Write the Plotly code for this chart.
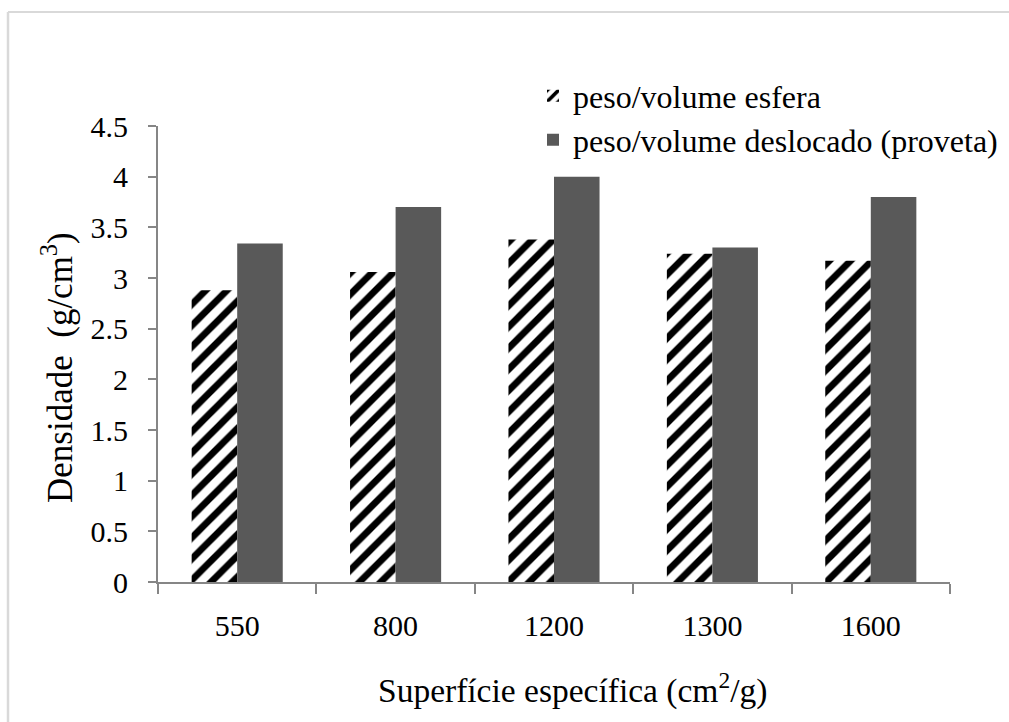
import plotly.graph_objects as go

# Specific surface categories (cm2/g)
categories = ["550", "800", "1200", "1300", "1600"]
# Density measured from sphere weight/volume
esfera = [2.88, 3.06, 3.38, 3.24, 3.17]
# Density from displaced volume in graduated cylinder
proveta = [3.34, 3.70, 4.00, 3.30, 3.80]
y_ticks = [0, 0.5, 1, 1.5, 2, 2.5, 3, 3.5, 4, 4.5]

FONT = "Liberation Serif"
AXIS = "#868686"

W, H = 1009, 722
ML, MR, MT, MB = 158, 59, 126, 140
PW, PH = W - ML - MR, H - MT - MB


def px_x(px):
    return (px - ML) / PW


def px_y(py):
    return (H - MB - py) / PH


fig = go.Figure()
fig.add_trace(go.Bar(
    x=categories, y=esfera, name="peso/volume esfera",
    marker=dict(color="white", line=dict(width=0),
                pattern=dict(shape="/", fgcolor="black", bgcolor="white",
                             fgopacity=1, fillmode="replace",
                             size=15, solidity=0.45)),
    legend="legend", showlegend=True,
))
fig.add_trace(go.Bar(
    x=categories, y=proveta, name="peso/volume deslocado (proveta)",
    marker=dict(color="#595959", line=dict(width=0)),
    legend="legend2", showlegend=True,
))

legend_common = dict(
    xanchor="left", yanchor="middle", bgcolor="rgba(0,0,0,0)",
    font=dict(family=FONT, size=32, color="black"),
)

fig.update_layout(
    width=W, height=H,
    margin=dict(l=ML, r=MR, t=MT, b=MB, autoexpand=False),
    paper_bgcolor="white", plot_bgcolor="white",
    barmode="group", bargap=0.425, bargroupgap=0,
    showlegend=True,
    font=dict(family=FONT, size=30, color="black"),
    legend=dict(x=px_x(533), y=px_y(96), visible=True, **legend_common),
    legend2=dict(x=px_x(533), y=px_y(140), visible=True, **legend_common),
    xaxis=dict(
        type="category", showline=True, linecolor=AXIS, linewidth=2,
        ticks="outside", tickson="boundaries", ticklen=10, tickcolor=AXIS,
        tickwidth=2, ticklabelstandoff=16, showgrid=False, zeroline=False,
        tickfont=dict(family=FONT, size=30), automargin=False,
    ),
    yaxis=dict(
        range=[0, 4.5], tickvals=y_ticks, showline=True, linecolor=AXIS,
        linewidth=2, ticks="outside", ticklen=8, tickcolor=AXIS, tickwidth=2,
        ticklabelstandoff=14, showgrid=False, zeroline=False,
        tickfont=dict(family=FONT, size=30), automargin=False,
    ),
    annotations=[
        dict(text="Superfície específica (cm<sup>2</sup>/g)",
             xref="paper", yref="paper", x=px_x(572), y=px_y(688),
             xanchor="center", yanchor="middle", showarrow=False,
             font=dict(family=FONT, size=33.5, color="black")),
        dict(text="Densidade\u00a0 (g/cm<sup>3</sup>)", textangle=-90,
             xref="paper", yref="paper", x=px_x(57), y=px_y(368),
             xanchor="center", yanchor="middle", showarrow=False,
             font=dict(family=FONT, size=35, color="black")),
    ],
    shapes=[
        dict(type="line", xref="paper", yref="paper",
             x0=px_x(8), x1=px_x(W + 5), y0=px_y(12), y1=px_y(12),
             line=dict(color="#d9d9d9", width=2)),
        dict(type="line", xref="paper", yref="paper",
             x0=px_x(8), x1=px_x(8), y0=px_y(12), y1=px_y(H + 5),
             line=dict(color="#d9d9d9", width=2.5)),
    ],
)

fig.write_html("out.html")
